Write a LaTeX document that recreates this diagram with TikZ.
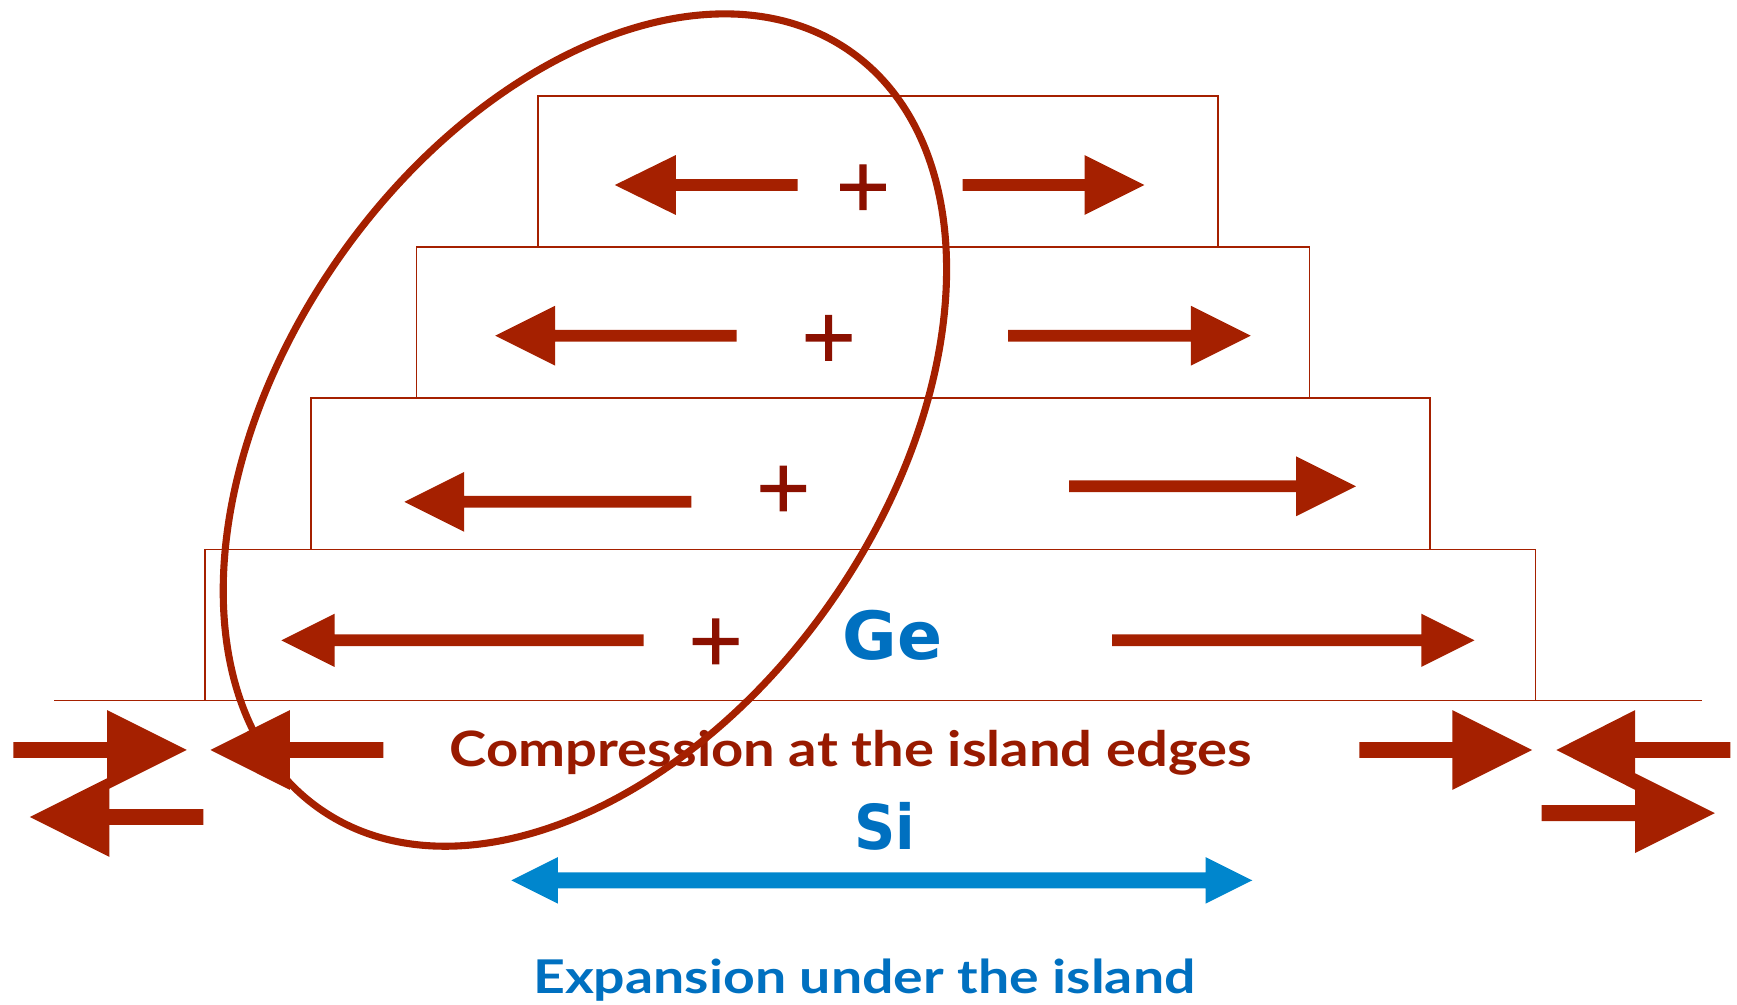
\documentclass[tikz,border=0pt]{standalone}
\usepackage{fontspec}
\usepackage{graphicx}
\setmainfont{Lato}
\newfontfamily\djv{DejaVu Sans}
\newfontfamily\djvplus[FakeBold=2]{DejaVu Sans}
\definecolor{dred}{HTML}{A52000}
\definecolor{tred}{HTML}{981A00}
\definecolor{pred}{HTML}{8B1000}
\definecolor{tblue}{HTML}{0070C0}
\definecolor{ablue}{HTML}{0086CD}
% tail x, base x, tip x, y, half shaft, half head
\newcommand\myarrow[6]{%
  \fill (#1,{#4-#5}) -- (#2,{#4-#5}) -- (#2,{#4-#6}) -- (#3,#4) -- (#2,{#4+#6}) -- (#2,{#4+#5}) -- (#1,{#4+#5}) -- cycle;}
\begin{document}
\begin{tikzpicture}[x=0.5pt,y=-0.5pt,
  layer/.style={draw=dred,line width=0.75pt},
  plus/.style={text=pred,font=\djvplus\fontsize{32}{32}\selectfont,inner sep=0pt},
  caption/.style={font=\bfseries\fontsize{22}{22}\selectfont,inner sep=0pt,anchor=base},
  label/.style={text=tblue,font=\djv\bfseries\fontsize{30}{30}\selectfont,inner sep=0pt,anchor=base}]
\useasboundingbox (0,0) rectangle (1568,907);
% layers
\draw[layer] (485.5,86.4) rectangle (1099.5,222.7);
\draw[layer] (376,222.7) rectangle (1182,359);
\draw[layer] (280.8,359) rectangle (1291,496);
\draw[layer] (185,496) rectangle (1386,632.3);
\draw[layer] (49,632.3) -- (1536,632.3);
% arrows in layers
\begin{scope}[fill=dred]
\myarrow{720}{610}{555}{167}{5.3}{27}
\myarrow{869}{979}{1033}{167}{5.3}{27}
\myarrow{665}{501}{447}{303}{5.3}{27}
\myarrow{910}{1075}{1129}{303}{5.3}{27}
\myarrow{624}{419}{365}{453}{5.3}{27}
\myarrow{965}{1170}{1224}{439}{5.3}{27}
\myarrow{581}{302}{254}{578}{5.3}{24}
\myarrow{1004}{1283}{1331}{578}{5.3}{24}
\end{scope}
% plus signs
\node[plus] (p1) at (779,169) {+};
\node[plus] (p2) at (748,305) {+};
\node[plus] (p3) at (707,441) {+};
\node[plus] (p4) at (646,579) {+};
% labels
\node[label] (ge) at (805.8,595) {\resizebox{45pt}{\height}{Ge}};
\node[label,font=\djv\bfseries\fontsize{28}{28}\selectfont] (si) at (798.4,766.5) {\resizebox{27.5pt}{\height}{Si}};
\node[caption,text=tred] (comp) at (768,692) {\resizebox{362pt}{\height}{Compression at the island edges}};
\node[caption,text=tblue,font=\bfseries\fontsize{21}{21}\selectfont] (exp) at (780.3,896.7) {\resizebox{299pt}{\height}{Expansion under the island}};
% Si expansion arrow
\fill[ablue] (461.6,794.7) -- (503.7,773.7) -- (503.7,787.5) -- (1088.3,787.5) -- (1088.3,773.7) -- (1130.4,794.7)
  -- (1088.3,815.7) -- (1088.3,801.9) -- (503.7,801.9) -- (503.7,815.7) -- cycle;
% ellipse
\draw[dred,line width=3.2pt,rotate around={55:(528,388.2)}] (528,388.2) ellipse [x radius=208.7pt, y radius=135.5pt];
% edge arrows
\begin{scope}[fill=dred]
\myarrow{12}{96.6}{168.6}{677}{7.2}{36}
\myarrow{346}{261.6}{190}{677}{7.2}{36}
\myarrow{183.5}{98.7}{27}{737.5}{7.2}{36}
\myarrow{1227}{1311}{1383}{677}{7.2}{36}
\myarrow{1562}{1476}{1405}{677}{7.2}{36}
\myarrow{1391.6}{1476}{1548}{734}{7.2}{36}
\end{scope}
\end{tikzpicture}
\end{document}
